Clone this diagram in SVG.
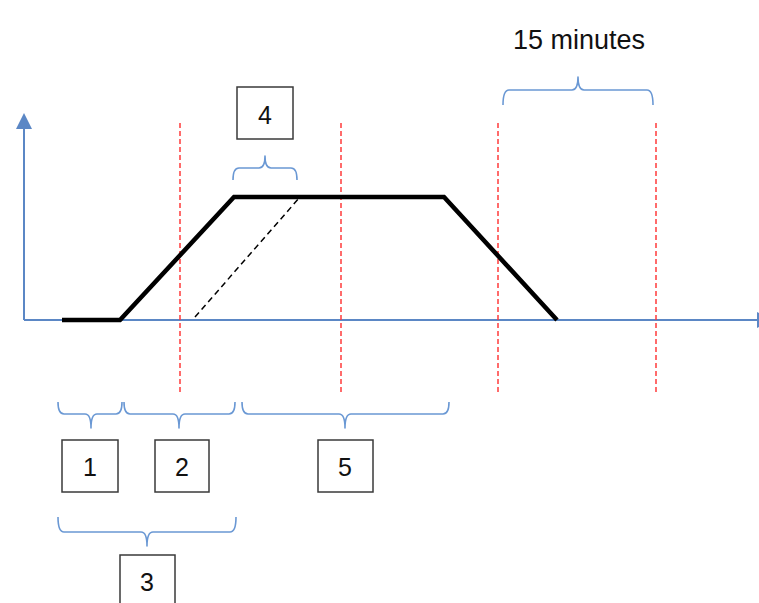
<svg xmlns="http://www.w3.org/2000/svg" width="759" height="603" viewBox="0 0 759 603">
<style>
.axis{stroke:#5B87C5;stroke-width:2;fill:none}
.brace{stroke:#6A98D4;stroke-width:1.6;fill:none;stroke-linejoin:round}
.red{stroke:#FF3B3B;stroke-width:1.5;stroke-dasharray:5 3;fill:none}
.box{fill:#fff;stroke:#3a3a3a;stroke-width:1.5}
.lbl{font-family:"Liberation Sans",Arial,sans-serif;font-size:25px;fill:#111;text-anchor:middle}
.title{font-size:27px}
</style>
<rect width="759" height="603" fill="#fff"/>
<g id="axes">
<line class="axis" x1="24" y1="320" x2="24" y2="126"/>
<polygon points="24,113 32,129 16,129" fill="#5B87C5"/>
<line class="axis" x1="24" y1="320" x2="758" y2="320"/>
<polygon points="757,312 773,320 757,328" fill="#5B87C5"/>
</g>
<g id="guides">
<line class="red" x1="180" y1="123" x2="180" y2="392"/>
<line class="red" x1="341" y1="123" x2="341" y2="392"/>
<line class="red" x1="498" y1="123" x2="498" y2="392"/>
<line class="red" x1="656" y1="123" x2="656" y2="392"/>
</g>
<g id="curve">
<polyline points="62,320 120,320 234,197 444,197 557,320" fill="none" stroke="#000" stroke-width="4.5" stroke-linejoin="miter"/>
<line x1="195" y1="317" x2="300" y2="197" stroke="#000" stroke-width="1.5" stroke-dasharray="6 4"/>
</g>
<g id="connectors">
<path class="brace" d="M58,402 Q58,414 64,414 H85 Q91,414 91,428 Q91,414 97,414 H116 Q122,414 122,402"/>
<path class="brace" d="M124,402 Q124,414 130,414 H173 Q179,414 179,428 Q179,414 185,414 H229 Q235,414 235,402"/>
<path class="brace" d="M242,402 Q242,414 248,414 H339 Q345,414 345,428 Q345,414 351,414 H443 Q449,414 449,402"/>
<path class="brace" d="M58,517 Q58,532 64,532 H141 Q147,532 147,546 Q147,532 153,532 H230 Q236,532 236,517"/>
<path class="brace" d="M233,180 Q233,168 239,168 H259 Q265,168 265,156 Q265,168 271,168 H291 Q297,168 297,180"/>
<path class="brace" d="M503,105 Q503,90 509,90 H572 Q578,90 578,77 Q578,90 584,90 H647 Q653,90 653,105"/>
</g>
<g id="label-15min">
<text class="lbl title" x="579" y="49">15 minutes</text>
</g>
<g id="node-4">
<rect class="box" x="237" y="87" width="56" height="52"/>
<text class="lbl" x="265" y="124">4</text>
</g>
<g id="node-1">
<rect class="box" x="62" y="440" width="56" height="52"/>
<text class="lbl" x="90" y="476">1</text>
</g>
<g id="node-2">
<rect class="box" x="155" y="440" width="54" height="52"/>
<text class="lbl" x="182" y="476">2</text>
</g>
<g id="node-5">
<rect class="box" x="318" y="440" width="55" height="52"/>
<text class="lbl" x="345" y="476">5</text>
</g>
<g id="node-3">
<rect class="box" x="120" y="555" width="55" height="54"/>
<text class="lbl" x="147" y="591">3</text>
</g>
</svg>
